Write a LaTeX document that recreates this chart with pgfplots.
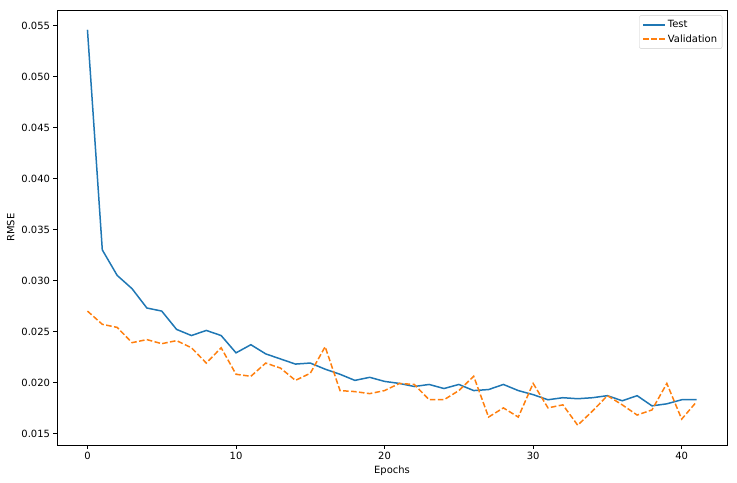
\documentclass[border=0pt]{standalone}
\usepackage{pgfplots}
\pgfplotsset{compat=1.18}
\usepackage{fontspec}
\setmainfont{DejaVu Sans}
\definecolor{mplblue}{HTML}{1F77B4}
\definecolor{mplorange}{HTML}{FF7F0E}
\begin{document}
\begin{tikzpicture}
\begin{axis}[
  scale only axis,
  width=670bp, height=435bp,
  xmin=-2.05, xmax=43.05,
  ymin=0.01386, ymax=0.05654,
  xtick={0,10,20,30,40},
  ytick={0.015,0.020,0.025,0.030,0.035,0.040,0.045,0.050,0.055},
  yticklabel style={/pgf/number format/.cd,fixed,fixed zerofill,precision=3},
  scaled y ticks=false,
  /pgf/number format/assume math mode=true,
  tick align=outside,
  tick pos=left,
  major tick length=3.5bp,
  tick style={black, line width=0.8bp},
  axis line style={line width=0.8bp},
  ticklabel style={font=\fontsize{10}{12}\selectfont},
  label style={font=\fontsize{10}{12}\selectfont},
  xlabel={Epochs}, ylabel={RMSE},
  legend style={at={(0.993,0.988)}, anchor=north east, draw=black!20, rounded corners=2pt,
    font=\fontsize{10}{12}\selectfont, row sep=1.5pt, inner xsep=3pt, inner ysep=3pt},
  legend cell align=left,
  legend image code/.code={\draw[#1] (0bp,0bp) -- (22bp,0bp);},
  clip=false,
]
\addplot[mplblue, line width=1.5bp] coordinates {
(0,0.0546)(1,0.0330)(2,0.0305)(3,0.0292)(4,0.0273)(5,0.0270)(6,0.0252)(7,0.0246)
(8,0.0251)(9,0.0246)(10,0.0229)(11,0.0237)(12,0.0228)(13,0.0223)(14,0.0218)(15,0.0219)
(16,0.0213)(17,0.0208)(18,0.0202)(19,0.0205)(20,0.0201)(21,0.0199)(22,0.0196)(23,0.0198)
(24,0.0194)(25,0.0198)(26,0.0192)(27,0.0193)(28,0.0198)(29,0.0192)(30,0.0188)(31,0.0183)
(32,0.0185)(33,0.0184)(34,0.0185)(35,0.0187)(36,0.0182)(37,0.0187)(38,0.0177)(39,0.0179)
(40,0.0183)(41,0.0183)
};
\addlegendentry{Test}
\addplot[mplorange, line width=1.5bp, dash pattern=on 5.55bp off 2.4bp] coordinates {
(0,0.0270)(1,0.0257)(2,0.0254)(3,0.0239)(4,0.0242)(5,0.0238)(6,0.0241)(7,0.0234)
(8,0.0219)(9,0.0234)(10,0.0208)(11,0.0206)(12,0.0219)(13,0.0214)(14,0.0202)(15,0.0209)
(16,0.0235)(17,0.0192)(18,0.0191)(19,0.0189)(20,0.0192)(21,0.0199)(22,0.0198)(23,0.0183)
(24,0.0183)(25,0.0192)(26,0.0206)(27,0.0166)(28,0.0175)(29,0.0166)(30,0.0199)(31,0.0175)
(32,0.0178)(33,0.0158)(34,0.0172)(35,0.0187)(36,0.0178)(37,0.0168)(38,0.0173)(39,0.0199)
(40,0.0164)(41,0.0181)
};
\addlegendentry{Validation}
\path (rel axis cs:0,0) ++(-57bp,-38bp) coordinate (bl);
\path (rel axis cs:1,1) ++(10bp,10bp) coordinate (tr);
\path (bl) rectangle (tr);
\end{axis}
\end{tikzpicture}
\end{document}
